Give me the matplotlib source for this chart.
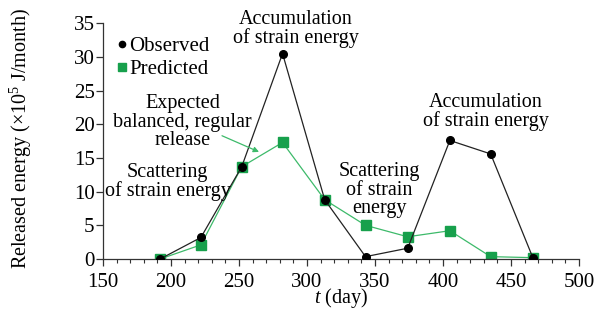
import matplotlib
matplotlib.use("Agg")
import matplotlib.pyplot as plt
from matplotlib.ticker import MultipleLocator

days = [192, 222, 252, 282, 313, 343, 374, 405, 435, 466]
observed = [0.0, 3.2, 13.7, 30.5, 8.8, 0.35, 1.6, 17.6, 15.6, 0.2]
predicted = [0.0, 2.1, 13.7, 17.3, 8.8, 5.0, 3.3, 4.2, 0.35, 0.2]

plt.rcParams['font.family'] = ['Liberation Serif', 'DejaVu Serif']
plt.rcParams['mathtext.fontset'] = 'custom'
plt.rcParams['mathtext.rm'] = 'Liberation Serif'
plt.rcParams['mathtext.it'] = 'Liberation Serif:italic'

green_m = '#17a04c'
green_l = '#3dba6a'

fig = plt.figure(figsize=(5.97, 3.10), dpi=100)
ax = fig.add_axes([0.1725, 0.1645, 0.7975, 0.7605])

ax.plot(days, observed, color='#222222', lw=0.9, marker='o', ms=5.5,
        mfc='black', mec='black', zorder=3)
ax.plot(days, predicted, color=green_l, lw=0.9, marker='s', ms=6.5,
        mfc=green_m, mec=green_m, zorder=2)

ax.set_xlim(150, 500)
ax.set_ylim(0, 35)
ax.xaxis.set_major_locator(MultipleLocator(50))
ax.xaxis.set_minor_locator(MultipleLocator(10))
ax.yaxis.set_major_locator(MultipleLocator(5))
for s in ['top', 'right']:
    ax.spines[s].set_visible(False)
for s in ['left', 'bottom']:
    ax.spines[s].set_color('#333333')
    ax.spines[s].set_linewidth(0.9)
ax.tick_params(axis='both', which='major', labelsize=15, length=5, width=0.9,
               color='#333333', pad=1)
ax.tick_params(axis='x', which='major', pad=5.0)
ax.tick_params(axis='x', which='minor', length=3, width=0.8, color='#333333')

ax.set_xlabel(r'$t$ (day)', fontsize=14.5, labelpad=-4.5)
ax.set_ylabel(r'Released energy ($\times$10$^5$ J/month)', fontsize=14.5, labelpad=6)
ax.yaxis.set_label_coords(-0.145, 0.51)

# legend
ax.plot([], [], ls='none', marker='o', ms=4.5, color='black', label='Observed')
ax.plot([], [], ls='none', marker='s', ms=5.5, color=green_m, label='Predicted')
h, l = ax.get_legend_handles_labels()
ax.legend(h, l, loc='upper left', bbox_to_anchor=(0.0, 1.005),
          frameon=False, fontsize=15, handlelength=0.4, handletextpad=0.15,
          labelspacing=0.15, borderpad=0.2)

kw = dict(ha='center', va='center', fontsize=14.5, linespacing=0.95)
ax.text(292, 34.2, 'Accumulation\nof strain energy', clip_on=False, **kw)
ax.text(208.5, 20.3, 'Expected\nbalanced, regular\nrelease', **kw)
ax.text(197.5, 11.4, 'Scattering\nof strain energy', **kw)
ax.text(353, 10.2, 'Scattering\nof strain\nenergy', **kw)
ax.text(431.5, 21.8, 'Accumulation\nof strain energy', **kw)

ax.annotate('', xy=(264.7, 15.9), xytext=(237.5, 18.3),
            arrowprops=dict(arrowstyle='-|>', color=green_l, lw=0.9,
                            mutation_scale=8, shrinkA=0, shrinkB=0))

fig.savefig('out.png', dpi=100)
